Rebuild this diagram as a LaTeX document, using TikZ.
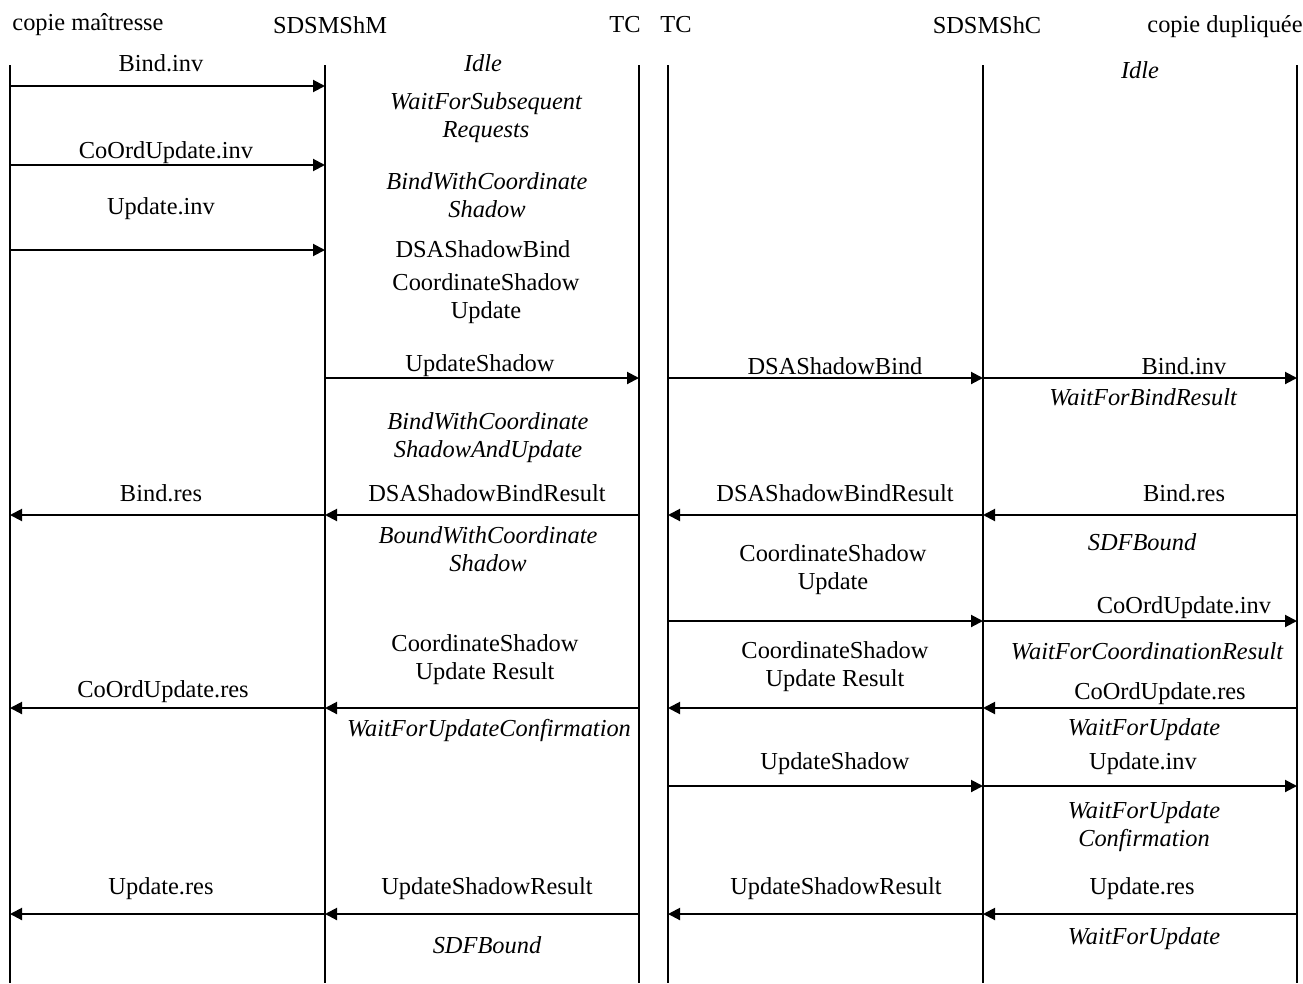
\documentclass[tikz,border=0pt]{standalone}
\usepackage{fontspec}
\setmainfont{Liberation Serif}
\usetikzlibrary{arrows.meta}
\begin{document}
\begin{tikzpicture}[x=1pt,y=-1pt,
  life/.style={line width=2pt},
  msg/.style={line width=2pt,-{Triangle[length=12pt,width=12pt]}},
  lbl/.style={inner sep=0pt,align=center,yshift=-3pt,font=\fontsize{24.4}{28}\selectfont},
  st/.style={lbl,font=\fontsize{24.4}{28}\selectfont\itshape}]
\useasboundingbox (0,0) rectangle (1303,983);

% lifeline heads
\coordinate (A) at (10,65);
\coordinate (B) at (325,65);
\coordinate (C) at (639,65);
\coordinate (D) at (668,65);
\coordinate (E) at (983,65);
\coordinate (F) at (1297,65);
\foreach \l in {A,B,C,D,E,F} \draw[life] (\l) -- (\l |- 0,983);

% column titles
\node[lbl] (hA) at (88,22) {copie maîtresse};
\node[lbl] (hB) at (330,22) {SDSMShM};
\node[lbl] (hC) at (625,22) {TC};
\node[lbl] (hD) at (676,22) {TC};
\node[lbl] (hE) at (987,22) {SDSMShC};
\node[lbl] (hF) at (1225,24) {copie dupliquée};

% messages
\draw[msg] (A |- 0,86) -- (B |- 0,86);
\draw[msg] (A |- 0,165) -- (B |- 0,165);
\draw[msg] (A |- 0,250) -- (B |- 0,250);
\draw[msg] (B |- 0,378) -- (C |- 0,378);
\draw[msg] (D |- 0,378) -- (E |- 0,378);
\draw[msg] (E |- 0,378) -- (F |- 0,378);
\foreach \y in {515,708,914}{
  \draw[msg] (B |- 0,\y) -- (A |- 0,\y);
  \draw[msg] (C |- 0,\y) -- (B |- 0,\y);
  \draw[msg] (E |- 0,\y) -- (D |- 0,\y);
  \draw[msg] (F |- 0,\y) -- (E |- 0,\y);
}
\foreach \y in {621,786}{
  \draw[msg] (D |- 0,\y) -- (E |- 0,\y);
  \draw[msg] (E |- 0,\y) -- (F |- 0,\y);
}

% copie maitresse <-> SDSMShM
\node[lbl] (a1) at (161,60) {Bind.inv};
\node[lbl] (a2) at (166,150) {CoOrdUpdate.inv};
\node[lbl] (a3) at (161,206) {Update.inv};
\node[lbl] (a4) at (161,490) {Bind.res};
\node[lbl] (a5) at (163,689) {CoOrdUpdate.res};
\node[lbl] (a6) at (161,886) {Update.res};

% SDSMShM <-> TC
\node[st]  (b1) at (483,60) {Idle};
\node[st]  (b2) at (486,115) {WaitForSubsequent\\Requests};
\node[st]  (b3) at (487,192) {BindWithCoordinate\\Shadow};
\node[lbl] (b4) at (483,246) {DSAShadowBind};
\node[lbl] (b5) at (486,296) {CoordinateShadow\\Update};
\node[lbl] (b6) at (480,363) {UpdateShadow};
\node[st]  (b7) at (488,435) {BindWithCoordinate\\ShadowAndUpdate};
\node[lbl] (b8) at (487,490) {DSAShadowBindResult};
\node[st]  (b9) at (488,546) {BoundWithCoordinate\\Shadow};
\node[lbl] (b10) at (485,657) {CoordinateShadow\\Update Result};
\node[st]  (b11) at (489,727) {WaitForUpdateConfirmation};
\node[lbl] (b12) at (487,886) {UpdateShadowResult};
\node[st]  (b13) at (487,942) {SDFBound};

% TC <-> SDSMShC
\node[lbl] (d1) at (835,363) {DSAShadowBind};
\node[lbl] (d2) at (835,490) {DSAShadowBindResult};
\node[lbl] (d3) at (833,567) {CoordinateShadow\\Update};
\node[lbl] (d4) at (835,664) {CoordinateShadow\\Update Result};
\node[lbl] (d5) at (835,761) {UpdateShadow};
\node[lbl] (d6) at (836,886) {UpdateShadowResult};

% SDSMShC <-> copie dupliquee
\node[st]  (e1) at (1140,67) {Idle};
\node[lbl] (e2) at (1184,363) {Bind.inv};
\node[st]  (e3) at (1143,394) {WaitForBindResult};
\node[lbl] (e4) at (1184,490) {Bind.res};
\node[st]  (e5) at (1142,539) {SDFBound};
\node[lbl] (e6) at (1184,605) {CoOrdUpdate.inv};
\node[st]  (e7) at (1147,648) {WaitForCoordinationResult};
\node[lbl] (e8) at (1160,691) {CoOrdUpdate.res};
\node[st]  (e9) at (1144,727) {WaitForUpdate};
\node[lbl] (e10) at (1143,761) {Update.inv};
\node[st]  (e11) at (1144,824) {WaitForUpdate\\Confirmation};
\node[lbl] (e12) at (1142,886) {Update.res};
\node[st]  (e13) at (1144,936) {WaitForUpdate};
\end{tikzpicture}
\end{document}
